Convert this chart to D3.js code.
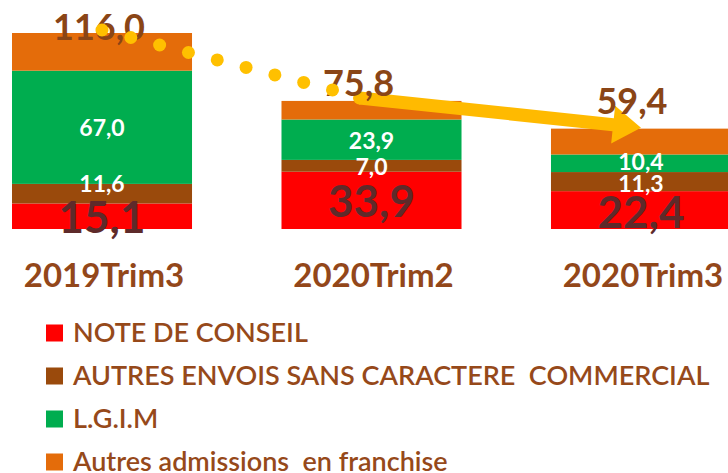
<!DOCTYPE html>
<html><head><meta charset="utf-8">
<script src="https://cdn.jsdelivr.net/npm/d3@7"></script>
<style>body{margin:0;background:#fff}svg{display:block}</style>
</head><body>
<svg id="c" width="728" height="473"></svg>
<script>
const categories = ["2019Trim3", "2020Trim2", "2020Trim3"];
const seriesNames = ["NOTE DE CONSEIL", "AUTRES ENVOIS SANS CARACTERE  COMMERCIAL", "L.G.I.M", "Autres admissions  en franchise"];
const noteConseil = [15.1, 33.9, 22.4];
const autresEnvois = [11.6, 7.0, 11.3];
const lgim = [67.0, 23.9, 10.4];
const autresAdmissions = [22.3, 11.0, 15.3];
const totals = [116.0, 75.8, 59.4];
const seriesColors = ["#FF0000", "#9A4A0C", "#00AD4F", "#E46C0A"];

const svg = d3.select("#c");
const font = "Lato, 'Open Sans', sans-serif";
const fmt = v => d3.format(".1f")(v).replace(".", ",");

const rows = categories.map((c, i) => ({cat: c, i: i, s0: noteConseil[i], s1: autresEnvois[i], s2: lgim[i], s3: autresAdmissions[i], total: totals[i]}));
const keys = ["s0", "s1", "s2", "s3"];
const stack = d3.stack().keys(keys)(rows);

const x = d3.scaleBand().domain(categories).range([12, 731]).paddingInner(0.332).paddingOuter(0);
const y = d3.scaleLinear().domain([0, 116]).range([229, 33]);
const bw = x.bandwidth();

// bars
const g = svg.append("g");
stack.forEach((layer, li) => {
  g.selectAll(null).data(layer).enter().append("rect")
    .attr("x", d => x(d.data.cat))
    .attr("y", d => y(d[1]))
    .attr("width", bw)
    .attr("height", d => y(d[0]) - y(d[1]))
    .attr("fill", seriesColors[li]);
});

// segment labels (small per-label nudges, as in the original)
const segStyle = [
  {size: 44, fill: "#5E2A2A", nudge: [1, 1, 2]},
  {size: 23, fill: "#FFFFFF", nudge: [-10, 1, 2]},
  {size: 23, fill: "#FFFFFF", nudge: [0, 1, -2]}
];
[0, 1, 2].forEach(li => {
  g.selectAll(null).data(stack[li]).enter().append("text")
    .attr("x", d => x(d.data.cat) + bw / 2)
    .attr("y", d => (y(d[0]) + y(d[1])) / 2 + segStyle[li].nudge[d.data.i])
    .attr("dy", "0.36em")
    .attr("text-anchor", "middle")
    .attr("font-family", font).attr("font-weight", 700)
    .attr("font-size", segStyle[li].size)
    .attr("fill", segStyle[li].fill)
    .text(d => fmt(d[1] - d[0]));
});

const c0 = categories[0], c1 = categories[1], c2 = categories[2];

// arrow bar2 -> bar3
const a0 = [x(c1) + bw / 2 - 12, y(totals[1]) - 3];
const a1 = [x(c2) + bw / 2, y(totals[2]) - 1];
const ang = Math.atan2(a1[1] - a0[1], a1[0] - a0[0]);
const headL = 28, headW = 19, shaftW = 13;
const ux = Math.cos(ang), uy = Math.sin(ang), nx = -uy, ny = ux;
const hb = [a1[0] - ux * headL, a1[1] - uy * headL];
const pts = [
  [a0[0] + nx * shaftW / 2, a0[1] + ny * shaftW / 2],
  [hb[0] + nx * shaftW / 2, hb[1] + ny * shaftW / 2],
  [hb[0] + nx * headW, hb[1] + ny * headW],
  a1,
  [hb[0] - nx * headW, hb[1] - ny * headW],
  [hb[0] - nx * shaftW / 2, hb[1] - ny * shaftW / 2],
  [a0[0] - nx * shaftW / 2, a0[1] - ny * shaftW / 2]
];
svg.append("path").attr("d", d3.line()(pts) + "Z").attr("fill", "#FFBA00");
svg.append("circle").attr("cx", a0[0]).attr("cy", a0[1]).attr("r", shaftW / 2).attr("fill", "#FFBA00");

// total labels
const totalNudge = [{dx: -3, dy: 7}, {dx: -13, dy: -5}, {dx: -9, dy: -15}];
svg.selectAll(null).data(rows).enter().append("text")
  .attr("x", d => x(d.cat) + bw / 2 + totalNudge[d.i].dx)
  .attr("y", d => y(d.total) + totalNudge[d.i].dy)
  .attr("text-anchor", "middle")
  .attr("font-family", font).attr("font-weight", 700)
  .attr("font-size", 36)
  .attr("fill", "#8A4516")
  .text(d => fmt(d.total));

// dotted connector bar1 -> bar2
const p0 = [x(c0) + bw / 2, y(totals[0]) - 3];
const p1 = [x(c1) + bw / 2 - 39, y(totals[1]) - 11];
const nd = 9;
const dots = d3.range(nd).map(i => [p0[0] + (p1[0] - p0[0]) * i / (nd - 1), p0[1] + (p1[1] - p0[1]) * i / (nd - 1)]);
svg.selectAll(null).data(dots).enter().append("circle")
  .attr("cx", d => d[0]).attr("cy", d => d[1]).attr("r", 6.5)
  .attr("fill", "#FFC000");

// category labels
svg.selectAll(null).data(categories).enter().append("text")
  .attr("x", d => x(d) + bw / 2 + 2)
  .attr("y", 287)
  .attr("text-anchor", "middle")
  .attr("font-family", font).attr("font-weight", 700)
  .attr("font-size", 33)
  .attr("fill", "#93471A")
  .text(d => d);

// legend
const leg = svg.append("g");
const legY = d3.scalePoint().domain(seriesNames).range([333, 462]);
seriesNames.forEach((n, i) => {
  leg.append("rect").attr("x", 46).attr("y", legY(n) - 8.5).attr("width", 17).attr("height", 17).attr("fill", seriesColors[i]);
  leg.append("text").attr("x", 73).attr("y", legY(n)).attr("dy", "0.33em")
    .attr("font-family", font).attr("font-weight", 600).attr("font-size", 27)
    .attr("fill", "#96491A").style("white-space", "pre").attr("xml:space", "preserve")
    .text(n);
});
</script>
</body></html>
